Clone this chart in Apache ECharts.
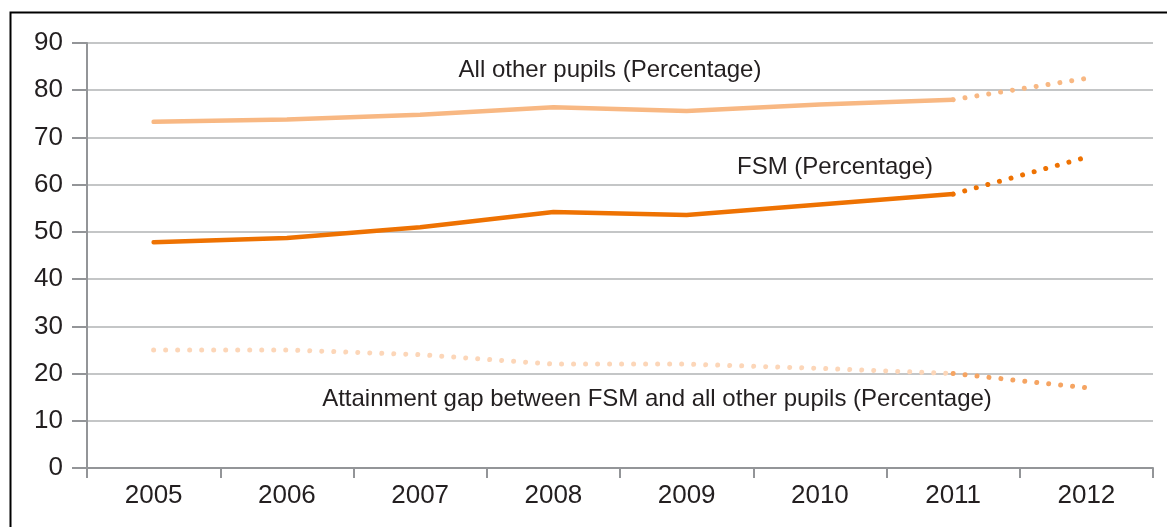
<!DOCTYPE html>
<html>
<head>
<meta charset="utf-8">
<script src="https://cdn.jsdelivr.net/npm/echarts@6/dist/echarts.min.js"></script>
<style>
html,body{margin:0;padding:0;background:#fff;}
#chart{width:1167px;height:527px;}
</style>
</head>
<body>
<div id="chart"></div>
<script>
var years = ['2005','2006','2007','2008','2009','2010','2011','2012'];
var otherPupils = [73.3, 73.8, 74.8, 76.4, 75.6, 77.0, 78.0, 82.5];
var fsm = [47.8, 48.7, 51.0, 54.2, 53.6, 55.8, 58.0, 65.8];
var gap = [25.0, 25.0, 24.0, 22.0, 22.0, 21.1, 20.0, 17.0];
var yTicks = [0, 10, 20, 30, 40, 50, 60, 70, 80, 90];
var projectionFrom = 6; // index where projected (dotted) part starts
var labels = {
  other: 'All other pupils (Percentage)',
  fsm: 'FSM (Percentage)',
  gap: 'Attainment gap between FSM and all other pupils (Percentage)'
};

function part(arr, from, to) {
  return arr.map(function (v, i) { return (i >= from && i <= to) ? v : '-'; });
}
var last = years.length - 1;
var dots = [0.01, 12];
var font = 'Liberation Sans, Arial, sans-serif';

var chart = echarts.init(document.getElementById('chart'));
chart.setOption({
  animation: false,
  grid: { left: 87, right: 14, top: 43, bottom: 59 },
  xAxis: {
    type: 'category',
    data: years,
    boundaryGap: true,
    axisLine: { lineStyle: { color: '#939598', width: 2 } },
    axisTick: { show: true, length: 10, interval: 0, lineStyle: { color: '#939598', width: 2 } },
    axisLabel: { color: '#231f20', fontSize: 26, fontFamily: font, margin: 15 },
    splitLine: { show: false }
  },
  yAxis: {
    type: 'value',
    min: yTicks[0],
    max: yTicks[yTicks.length - 1],
    interval: yTicks[1] - yTicks[0],
    axisLine: { show: true, lineStyle: { color: '#939598', width: 2 } },
    axisTick: { show: true, length: 15, lineStyle: { color: '#939598', width: 2 } },
    axisLabel: { color: '#231f20', fontSize: 26, fontFamily: font, margin: 24 },
    splitLine: { show: true, lineStyle: { color: '#b1b3b5', width: 1.5 } }
  },
  series: [
    { type: 'line', data: part(gap, 0, projectionFrom), symbol: 'none', z: 2,
      lineStyle: { color: '#fcd6b8', width: 5, type: dots, cap: 'round' } },
    { type: 'line', data: part(gap, projectionFrom, last), symbol: 'none', z: 2,
      lineStyle: { color: '#f5a462', width: 5, type: dots, cap: 'round' } },
    { type: 'line', data: part(otherPupils, 0, projectionFrom), symbol: 'none', z: 3,
      lineStyle: { color: '#f8b883', width: 4.5, cap: 'round' } },
    { type: 'line', data: part(otherPupils, projectionFrom, last), symbol: 'none', z: 3,
      lineStyle: { color: '#f8b883', width: 5, type: dots, cap: 'round' } },
    { type: 'line', data: part(fsm, 0, projectionFrom), symbol: 'none', z: 3,
      lineStyle: { color: '#ee7202', width: 4.5, cap: 'round' } },
    { type: 'line', data: part(fsm, projectionFrom, last), symbol: 'none', z: 3,
      lineStyle: { color: '#ee7202', width: 5, type: dots, cap: 'round' } }
  ],
  graphic: [
    { type: 'rect', left: 8, top: 10, silent: true, z: 100,
      shape: { x: 0, y: 0, width: 1200, height: 600 },
      style: { fill: 'none', stroke: '#000', lineWidth: 2 } },
    { type: 'text', x: 610, y: 70, silent: true,
      style: { text: labels.other, fill: '#231f20', fontSize: 24, fontFamily: font, align: 'center', verticalAlign: 'middle' } },
    { type: 'text', x: 835, y: 167, silent: true,
      style: { text: labels.fsm, fill: '#231f20', fontSize: 24, fontFamily: font, align: 'center', verticalAlign: 'middle' } },
    { type: 'text', x: 657, y: 399, silent: true,
      style: { text: labels.gap, fill: '#231f20', fontSize: 24, fontFamily: font, align: 'center', verticalAlign: 'middle' } }
  ]
});
</script>
</body>
</html>
